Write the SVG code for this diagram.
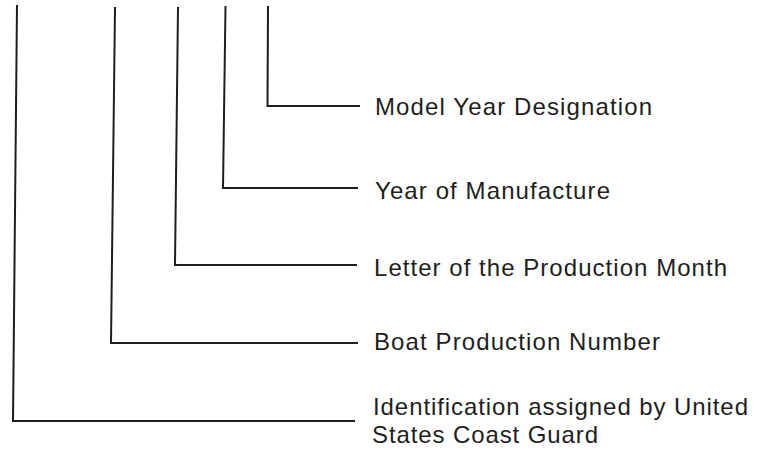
<svg xmlns="http://www.w3.org/2000/svg" width="765" height="454" viewBox="0 0 765 454">
<style>
.c{fill:none;stroke:#1e1e1e;stroke-width:2;stroke-linejoin:miter}
.t{font-family:"Liberation Sans",Arial,Helvetica,sans-serif;font-size:24px;fill:#1e1e1e}
</style>
<rect width="765" height="454" fill="#fff"/>
<g id="connectors">
<polyline class="c" points="17,5 13,421 355,421"/>
<polyline class="c" points="115,7 111,343 358,343"/>
<polyline class="c" points="178,7 175,265 357,265"/>
<polyline class="c" points="225.5,6 223,188 358,188"/>
<polyline class="c" points="268,6 267.5,106 360,106"/>
</g>
<g id="model-year"><text class="t" x="375" y="115" textLength="277" lengthAdjust="spacing">Model Year Designation</text></g>
<g id="year-manufacture"><text class="t" x="375" y="199" textLength="235" lengthAdjust="spacing">Year of Manufacture</text></g>
<g id="production-month"><text class="t" x="374" y="276" textLength="353" lengthAdjust="spacing">Letter of the Production Month</text></g>
<g id="production-number"><text class="t" x="374" y="350" textLength="286" lengthAdjust="spacing">Boat Production Number</text></g>
<g id="coast-guard"><text class="t" x="373" y="415" textLength="375" lengthAdjust="spacing">Identification assigned by United</text><text class="t" x="372" y="443" textLength="226" lengthAdjust="spacing">States Coast Guard</text></g>
</svg>
